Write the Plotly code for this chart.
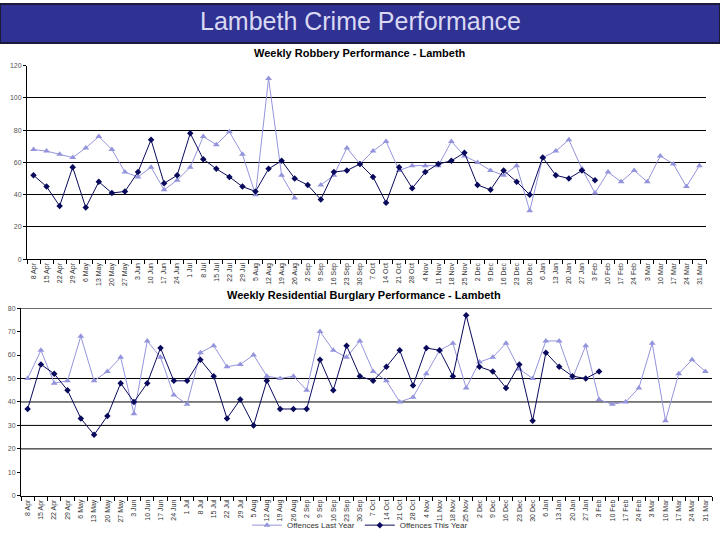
import plotly.graph_objects as go

weeks = ["8 Apr", "15 Apr", "22 Apr", "29 Apr", "6 May", "13 May", "20 May", "27 May",
         "3 Jun", "10 Jun", "17 Jun", "24 Jun", "1 Jul", "8 Jul", "15 Jul", "22 Jul",
         "29 Jul", "5 Aug", "12 Aug", "19 Aug", "26 Aug", "2 Sep", "9 Sep", "16 Sep",
         "23 Sep", "30 Sep", "7 Oct", "14 Oct", "21 Oct", "28 Oct", "4 Nov", "11 Nov",
         "18 Nov", "25 Nov", "2 Dec", "9 Dec", "16 Dec", "23 Dec", "30 Dec", "6 Jan",
         "13 Jan", "20 Jan", "27 Jan", "3 Feb", "10 Feb", "17 Feb", "24 Feb", "3 Mar",
         "10 Mar", "17 Mar", "24 Mar", "31 Mar"]

robbery_last = [68, 67, 65, 63, 69, 76, 68, 54, 51, 57, 43, 49, 57, 76, 71, 79,
                65, 40, 112, 52, 38, None, 46, 52, 69, 59, 67, 73, 55, 58, 58, 58,
                73, 64, 60, 55, 52, 58, 30, 63, 67, 74, 56, 41, 54, 48, 55, 48,
                64, 59, 45, 58]
robbery_this = [52, 45, 33, 57, 32, 48, 41, 42, 54, 74, 47, 52, 78, 62, 56, 51,
                45, 42, 56, 61, 50, 46, 37, 54, 55, 59, 51, 35, 57, 44, 54, 59,
                61, 66, 46, 43, 55, 48, 40, 63, 52, 50, 55, 49]

burglary_last = [50, 62, 48, 49, 68, 49, 53, 59, 35, 66, 59, 43, 39, 61, 64, 55,
                 56, 60, 51, 50, 51, 45, 70, 62, 59, 66, 53, 49, 40, 42, 52, 62,
                 65, 46, 57, 59, 65, 54, 50, 66, 66, 50, 64, 41, 39, 40, 46, 65,
                 32, 52, 58, 53]
burglary_this = [37, 56, 52, 45, 33, 26, 34, 48, 40, 48, 63, 49, 49, 58, 51, 33,
                 41, 30, 49, 37, 37, 37, 58, 45, 64, 51, 49, 55, 62, 47, 63, 62,
                 51, 77, 55, 53, 46, 56, 32, 61, 55, 51, 50, 53]

burglary_grid = [20, 30, 40, 50, 80]

LIGHT = "#9494dc"
DARK = "#0a0a5c"
FONT = "Arial, Liberation Sans, sans-serif"

fig = go.Figure()

fig.add_trace(go.Scatter(x=weeks, y=robbery_last, mode="lines+markers", name="Offences Last Year",
                         line=dict(color=LIGHT, width=1), marker=dict(symbol="triangle-up", size=6, color=LIGHT),
                         xaxis="x", yaxis="y", showlegend=False))
fig.add_trace(go.Scatter(x=weeks[:len(robbery_this)], y=robbery_this, mode="lines+markers", name="Offences This Year",
                         line=dict(color=DARK, width=1), marker=dict(symbol="diamond", size=5, color=DARK),
                         xaxis="x", yaxis="y", showlegend=False))
fig.add_trace(go.Scatter(x=weeks, y=burglary_last, mode="lines+markers", name="Offences Last Year",
                         line=dict(color=LIGHT, width=1), marker=dict(symbol="triangle-up", size=6, color=LIGHT),
                         xaxis="x2", yaxis="y2"))
fig.add_trace(go.Scatter(x=weeks[:len(burglary_this)], y=burglary_this, mode="lines+markers", name="Offences This Year",
                         line=dict(color=DARK, width=1), marker=dict(symbol="diamond", size=5, color=DARK),
                         xaxis="x2", yaxis="y2"))

xcommon = dict(type="category", range=[-0.5, len(weeks) - 0.5], tickangle=-90, tickson="boundaries",
               ticks="outside", ticklen=4, tickcolor="black", showline=True, linecolor="black",
               linewidth=1, showgrid=False, tickfont=dict(size=7, color="#333333", family=FONT))

fig.update_layout(
    width=720, height=540,
    margin=dict(l=0, r=0, t=0, b=0),
    paper_bgcolor="white", plot_bgcolor="white",
    font=dict(family=FONT, color="#222222"),
    xaxis=dict(domain=[27 / 720, 706 / 720], anchor="y", **xcommon),
    yaxis=dict(domain=[1 - 261 / 540, 1 - 63 / 540], anchor="x", range=[0, 120], dtick=20,
               showgrid=True, gridcolor="black", gridwidth=1, showline=True, linecolor="black",
               ticks="outside", ticklen=3, tickcolor="black", zeroline=False,
               tickfont=dict(size=7, color="#555555", family=FONT)),
    xaxis2=dict(domain=[21 / 720, 712 / 720], anchor="y2", **xcommon),
    yaxis2=dict(domain=[1 - 503 / 540, 1 - 311 / 540], anchor="x2", range=[0, 80], dtick=10,
                showgrid=False, showline=True, linecolor="black",
                ticks="outside", ticklen=3, tickcolor="black", zeroline=False,
                tickfont=dict(size=7, color="#555555", family=FONT)),
    legend=dict(orientation="h", x=0.5, xanchor="center", y=0.013, yanchor="middle",
                font=dict(size=8, color="#333333", family=FONT), itemwidth=30,
                bgcolor="rgba(0,0,0,0)"),
)

for v in burglary_grid:
    fig.add_shape(type="line", xref="x2 domain", yref="y2", x0=0, x1=1, y0=v, y1=v,
                  line=dict(color="black", width=1), layer="below")

# banner
fig.add_shape(type="rect", xref="paper", yref="paper", x0=0, x1=1, y0=1 - 40 / 540, y1=1,
              fillcolor="#2f3193", line=dict(color="#1c1c3a", width=2), layer="below")
fig.add_annotation(text="Lambeth Crime Performance", xref="paper", yref="paper", x=0.5, y=1 - 17 / 540,
                   yanchor="middle", showarrow=False, font=dict(size=25, color="#d9d9f2", family=FONT))
fig.add_annotation(text="<b>Weekly Robbery Performance - Lambeth</b>", xref="paper", yref="paper",
                   x=0.5, y=1 - 50 / 540, yanchor="middle", showarrow=False,
                   font=dict(size=11, color="black", family=FONT))
fig.add_annotation(text="<b>Weekly Residential Burglary Performance - Lambeth</b>", xref="paper", yref="paper",
                   x=0.505, y=1 - 298 / 540, yanchor="middle", showarrow=False,
                   font=dict(size=11, color="black", family=FONT))

fig.write_html("out.html", config={"displayModeBar": False},
               post_script="document.body.style.margin='0';")
